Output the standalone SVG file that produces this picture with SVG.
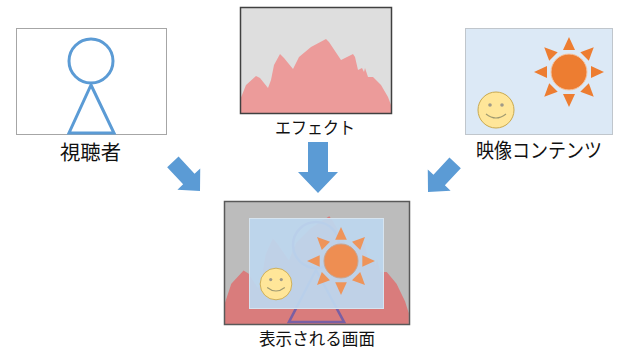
<svg xmlns="http://www.w3.org/2000/svg" xmlns:xlink="http://www.w3.org/1999/xlink" width="618" height="349" viewBox="0 0 618 349">
  <style>
    .label { font-family: "Noto Sans CJK JP", "Noto Sans", sans-serif; fill: #111; text-anchor: middle; }
    .figure { fill: none; stroke: #5b9bd5; stroke-width: 3; }
    .ray { fill: #ed7d31; }
    .arrow { fill: #5b9bd5; }
  </style>
  <defs>
    <!-- down-pointing block arrow, tip at origin -->
    <path id="arrow" d="M-10,-51 H10 V-21 H20 L0,0 L-20,-21 H-10 Z"/>
    <!-- effect silhouette in the effect panel's coordinates -->
    <path id="ridge" d="M240,100 L246,85 L256,76 L260,78 L268,88 L271,80 L274,65 L280,54 L284,58 L293,69 L299,57 L311,47 L326,39 L329,42 L341,60 L353,54 L355,57 L358,70 L362,68 L364,72 L365,68 L368,77 L373,77 L381,85 L388,97 L391,105 L391,113 L240,113 Z"/>
    <polygon id="ray" points="-6,-22 6,-22 0,-35"/>
    <g id="sunRays">
      <use xlink:href="#ray"/>
      <use xlink:href="#ray" transform="rotate(45)"/>
      <use xlink:href="#ray" transform="rotate(90)"/>
      <use xlink:href="#ray" transform="rotate(135)"/>
      <use xlink:href="#ray" transform="rotate(180)"/>
      <use xlink:href="#ray" transform="rotate(225)"/>
      <use xlink:href="#ray" transform="rotate(270)"/>
      <use xlink:href="#ray" transform="rotate(315)"/>
    </g>
    <g id="smiley">
      <circle r="18" fill="#ffe699" stroke="#c9a94f" stroke-width="1"/>
      <circle cx="-6" cy="-5" r="1.8" fill="#a09a88"/>
      <circle cx="6" cy="-5" r="1.8" fill="#a09a88"/>
      <path d="M-10,4 Q0,12 10,4" fill="none" stroke="#a09a70" stroke-width="1.2"/>
    </g>
    <clipPath id="displayClip">
      <rect x="224" y="201" width="186" height="124"/>
    </clipPath>
  </defs>

  <!-- viewer panel -->
  <g id="viewer">
    <rect x="16.5" y="28.5" width="150" height="106" fill="#ffffff" stroke="#a6a6a6" stroke-width="1"/>
    <g class="figure">
      <circle cx="91" cy="61" r="22"/>
      <path d="M91,85 L114,133 L69,133 Z"/>
    </g>
    <text class="label" x="90.5" y="160" font-size="20" textLength="61" lengthAdjust="spacingAndGlyphs">視聴者</text>
  </g>

  <!-- effect panel -->
  <g id="effect">
    <rect x="240.5" y="7.5" width="151" height="106" fill="#dedede"/>
    <use xlink:href="#ridge" fill="#ec9b9a"/>
    <rect x="240.5" y="7.5" width="151" height="106" fill="none" stroke="#404040" stroke-width="1.5"/>
    <text class="label" x="315" y="134" font-size="17" textLength="80" lengthAdjust="spacingAndGlyphs">エフェクト</text>
  </g>

  <!-- video content panel -->
  <g id="content">
    <rect x="465.5" y="28.5" width="147" height="106" fill="#dce9f6" stroke="#c0c6cc" stroke-width="1"/>
    <use xlink:href="#sunRays" class="ray" transform="translate(569,72)"/>
    <circle cx="569" cy="72" r="18" fill="#ed7d31" stroke="#f6c6a4" stroke-width="1"/>
    <use xlink:href="#smiley" transform="translate(496,110)"/>
    <text class="label" x="539" y="158" font-size="20" textLength="126" lengthAdjust="spacingAndGlyphs">映像コンテンツ</text>
  </g>

  <!-- composited display: effect, then viewer, then translucent content -->
  <g id="display">
    <g clip-path="url(#displayClip)">
      <rect x="224" y="201" width="186" height="124" fill="#bcbcbc"/>
      <use xlink:href="#ridge" fill="#d97c7c" transform="matrix(1.224 0 0 1.47 -69.8 158.9)"/>
      <g fill="none" stroke="#7a5fa3" stroke-width="2.6">
        <circle cx="316" cy="245" r="23"/>
        <path d="M316,270 L344,322 L289,322 Z"/>
      </g>
      <rect x="249.5" y="218.5" width="134" height="90" fill="#bdd7ee" fill-opacity="0.94" stroke="#d6e4f0" stroke-width="1"/>
      <use xlink:href="#sunRays" fill="#ee945a" transform="translate(341,261) scale(0.97)"/>
      <circle cx="341" cy="261" r="17" fill="#ee8e52" stroke="#c9a590" stroke-width="1"/>
      <use xlink:href="#smiley" transform="translate(276,284) scale(0.88)"/>
    </g>
    <rect x="224.5" y="201.5" width="185" height="123" fill="none" stroke="#595959" stroke-width="1.5"/>
    <text class="label" x="317" y="345" font-size="17" textLength="116" lengthAdjust="spacingAndGlyphs">表示される画面</text>
  </g>

  <!-- arrows -->
  <g id="connectors" class="arrow">
    <use xlink:href="#arrow" transform="translate(200,191) rotate(-43) scale(0.78)"/>
    <use xlink:href="#arrow" transform="translate(318,193)"/>
    <use xlink:href="#arrow" transform="translate(428,192) rotate(43) scale(0.78)"/>
  </g>
</svg>
